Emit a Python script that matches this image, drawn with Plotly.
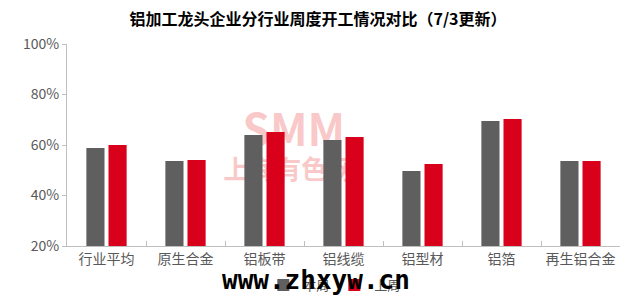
import plotly.graph_objects as go

categories = ["行业平均", "原生合金", "铝板带", "铝线缆", "铝型材", "铝箔", "再生铝合金"]
this_week = [58.8, 53.7, 64.0, 62.0, 49.7, 69.5, 53.7]   # 本周 (gray)
last_week = [60.0, 54.1, 65.1, 63.2, 52.5, 70.3, 53.7]   # 上周 (red)
series_names = ["本周", "上周"]
y_ticks = [20, 40, 60, 80, 100]
y_tick_labels = ["20%", "40%", "60%", "80%", "100%"]
title_text = "铝加工龙头企业分行业周度开工情况对比（7/3更新）"

GRAY = "#5f5f5f"
RED = "#d9001b"
AXIS = "#bfbfbf"
TXT = "#595959"
FONT = "Noto Sans CJK SC"

fig = go.Figure()

# watermark (drawn on base axes, behind the bars)
fig.add_trace(go.Scatter(
    x=[0.41, 0.40], y=[0.55, 0.365], mode="text",
    text=["<b>SMM</b>", "<b>上海有色网</b>"],
    textfont=dict(family=FONT, size=[44, 26], color="rgba(240,110,110,0.38)"),
    xaxis="x", yaxis="y", showlegend=False, hoverinfo="skip"))

fig.add_trace(go.Bar(
    x=categories, y=this_week, name=series_names[0],
    marker=dict(color=GRAY, line=dict(width=0)),
    xaxis="x2", yaxis="y2"))
fig.add_trace(go.Bar(
    x=categories, y=last_week, name=series_names[1],
    marker=dict(color=RED, line=dict(width=0)),
    xaxis="x2", yaxis="y2"))

fig.update_layout(
    width=636, height=300,
    margin=dict(l=67, r=16, t=44, b=54, autoexpand=False),
    paper_bgcolor="white", plot_bgcolor="white",
    font=dict(family=FONT, color=TXT, size=14),
    title=dict(text="<b>" + title_text + "</b>", x=0.5, xanchor="center",
               y=0.935, yanchor="middle",
               font=dict(family=FONT, size=16, color="#000000")),
    barmode="group", bargap=0.44, bargroupgap=0.18,
    xaxis=dict(visible=False, range=[0, 1], fixedrange=True),
    yaxis=dict(visible=False, range=[0, 1], fixedrange=True),
    xaxis2=dict(overlaying="x", anchor="y2", type="category",
                showline=True, linecolor=AXIS, linewidth=1,
                ticks="inside", tickson="boundaries", ticklen=5, tickcolor=AXIS,
                showgrid=False, tickfont=dict(size=14, color=TXT)),
    yaxis2=dict(overlaying="y", anchor="x2", side="left",
                range=[20, 100], tickvals=y_ticks, ticktext=y_tick_labels,
                showline=True, linecolor=AXIS, linewidth=1,
                ticks="outside", ticklen=4, tickcolor=AXIS,
                showgrid=False, zeroline=False,
                tickfont=dict(size=14, color=TXT)),
    legend=dict(orientation="h", x=0.355, xanchor="left",
                yref="container", y=0.05, yanchor="middle",
                font=dict(size=13, color=TXT), itemwidth=30,
                bgcolor="rgba(0,0,0,0)"),
    annotations=[dict(text="<b>www.zhxyw.cn</b>", x=0.45, y=-0.168,
                      xref="paper", yref="paper", showarrow=False,
                      yanchor="middle", xanchor="center",
                      font=dict(family="DejaVu Sans Mono", size=26, color="#000000"))],
)

fig.write_html("out.html")
